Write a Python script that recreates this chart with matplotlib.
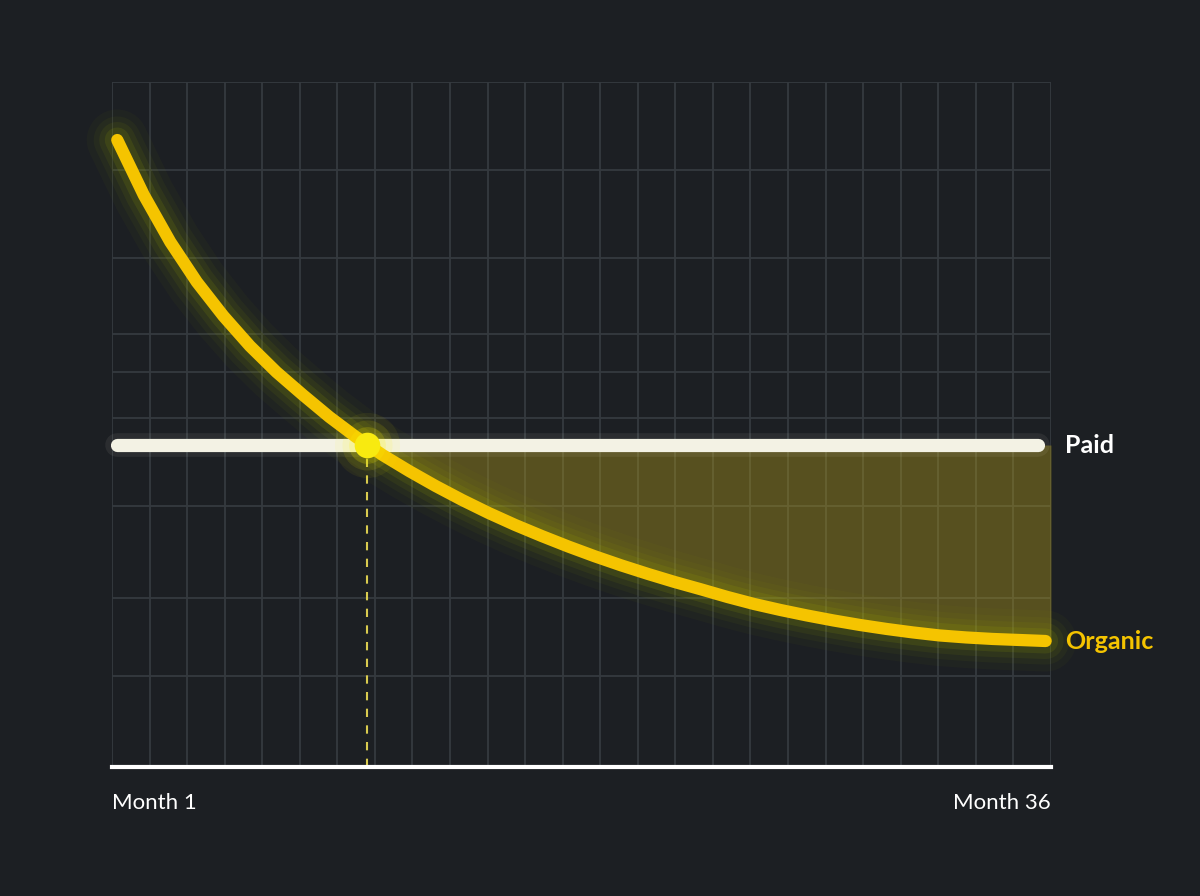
import numpy as np
import matplotlib.pyplot as plt

months = np.arange(1, 37)
organic = [91.53, 83.50, 76.64, 70.80, 65.84, 61.46, 57.66, 54.31, 51.09, 48.18,
           45.55, 43.21, 41.02, 38.98, 37.08, 35.33, 33.72, 32.19, 30.76, 29.43,
           28.19, 27.02, 25.94, 24.82, 23.80, 22.92, 22.12, 21.39, 20.73, 20.15,
           19.64, 19.20, 18.91, 18.69, 18.54, 18.39]
paid = 47.0
breakeven_month = 10.4
grid_y = [13.3, 24.7, 38.1, 50.9, 57.7, 63.2, 74.3, 87.15, 100]
x_labels = ["Month 1", "Month 36"]
series_labels = ["Paid", "Organic"]

bg = "#1c1f23"
gold = "#f5c400"
cream = "#f3f2e4"

plt.rcParams['font.family'] = ['Lato', 'DejaVu Sans']
fig = plt.figure(figsize=(12, 8.96), dpi=100, facecolor=bg)
ax = fig.add_axes([0.0933, 0.144, 0.7825, 0.7645])
ax.set_facecolor(bg)
ax.set_xlim(0.8, 36.2)
ax.set_ylim(0, 100)

# grid
for gx in 0.8 + 1.416 * np.arange(26):
    ax.axvline(gx, color="#353a3f", lw=1.3, zorder=1)
for gy in grid_y:
    ax.axhline(gy, color="#353a3f", lw=1.3, zorder=1)
ax.axhline(0, color="white", lw=3, zorder=6, clip_on=False)

x = np.asarray(months, dtype=float)
y = np.asarray(organic)

# shaded gap after break-even
xf = np.linspace(breakeven_month, 36.2, 300)
yf = np.interp(xf, x, y)
ax.fill_between(xf, yf, paid, where=yf <= paid, color="#b8a21a", alpha=0.38,
                lw=0, zorder=2)

# dashed marker down to the axis
ax.plot([breakeven_month, breakeven_month], [0, paid], color="#d9cb4f",
        lw=1.5, dashes=(4, 4), zorder=3)

# glow on organic
for w, a in [(44, 0.035), (34, 0.05), (26, 0.08), (18, 0.13)]:
    ax.plot(x, y, color="#9fb000", lw=w, alpha=a, solid_capstyle="round",
            solid_joinstyle="round", zorder=3, clip_on=False)
# paid line (with light glow)
ax.plot([1, 35.7], [paid, paid], color=cream, lw=17, alpha=0.07,
        solid_capstyle="round", zorder=4, clip_on=False)
ax.plot([1, 35.7], [paid, paid], color=cream, lw=9.5,
        solid_capstyle="round", zorder=5, clip_on=False)
ax.plot(x, y, color=gold, lw=8.8, solid_capstyle="round",
        solid_joinstyle="round", zorder=6, clip_on=False)

# break-even dot
for s, a in [(2200, 0.06), (1300, 0.1), (700, 0.18)]:
    ax.scatter([breakeven_month], [paid], s=s, color="#fff200", alpha=a,
               lw=0, zorder=7)
ax.scatter([breakeven_month], [paid], s=340, color="#f8ea10", lw=0, zorder=8)

for sp in ax.spines.values():
    sp.set_visible(False)
ax.set_xticks([])
ax.set_yticks([])

ax.text(36.72, paid, series_labels[0], color="white", fontsize=18,
        fontweight="bold", va="center", ha="left")
ax.text(36.72, y[-1], series_labels[1], color=gold, fontsize=18,
        fontweight="bold", va="center", ha="left")
ax.text(0, -0.052, x_labels[0], transform=ax.transAxes, color="white",
        fontsize=16, va="center", ha="left")
ax.text(1, -0.052, x_labels[1], transform=ax.transAxes, color="white",
        fontsize=16, va="center", ha="right")

fig.savefig("out.png", dpi=100, facecolor=bg)
